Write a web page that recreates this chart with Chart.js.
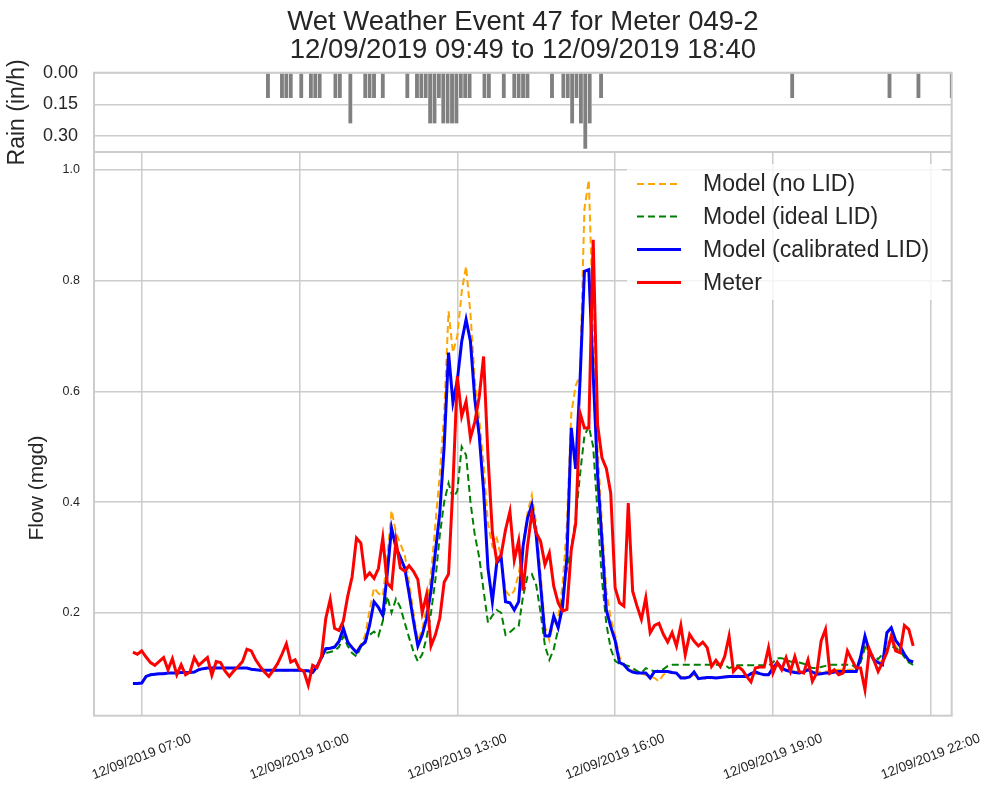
<!DOCTYPE html>
<html>
<head>
<meta charset="utf-8">
<script src="https://cdn.jsdelivr.net/npm/chart.js@4.4.1/dist/chart.umd.min.js"></script>
<style>
  html, body { margin: 0; padding: 0; background: #fff; }
  #wrap { position: relative; width: 985px; height: 793px; }
  #wrap canvas { position: absolute; left: 0; top: 0; }
</style>
</head>
<body>
<div id="wrap">
  <canvas id="flow" width="985" height="793"></canvas>
  <canvas id="rain" width="985" height="793"></canvas>
</div>
<script>
const FONT = "'Liberation Sans', Arial, Helvetica, sans-serif";
const TEXT = '#262626';
const GRID = '#cccccc';

// ---- data ----
const titleLines = ['Wet Weather Event 47 for Meter 049-2', '12/09/2019 09:49 to 12/09/2019 18:40'];
const datePrefix = '12/09/2019';
const seriesNames = ['Model (no LID)', 'Model (ideal LID)', 'Model (calibrated LID)', 'Meter'];

// flow samples every 5 minutes from 06:50
const flowStart = '06:50';
const flowStepMin = 5;

const noLid = [
  0.072,0.072,0.073,0.085,0.088,0.089,0.090,0.090,0.091,0.091,0.091,0.092,
  0.092,0.092,0.093,0.097,0.099,0.100,0.100,0.100,0.100,0.100,0.100,0.100,
  0.100,0.100,0.100,0.098,0.097,0.096,0.096,0.096,0.096,0.096,0.096,0.096,
  0.096,0.096,0.096,0.095,0.095,0.092,0.103,0.119,0.135,0.137,0.139,0.150,
  0.175,0.150,0.138,0.130,0.143,0.160,0.205,0.245,0.235,0.230,0.300,0.385,
  0.345,0.325,0.305,0.255,0.200,0.150,0.170,0.210,0.270,0.360,0.450,0.560,
  0.745,0.670,0.700,0.780,0.826,0.740,0.620,0.550,0.470,0.360,0.320,0.335,
  0.300,0.240,0.230,0.240,0.270,0.320,0.380,0.413,0.360,0.270,0.175,0.150,
  0.185,0.190,0.250,0.360,0.560,0.610,0.630,0.930,0.982,0.720,0.500,0.360,
  0.240,0.190,0.160,0.120,0.108,0.100,0.095,0.092,0.090,0.088,0.085,0.082,
  0.076,0.088,0.092,0.092,0.090,0.085,0.083,0.084,0.088,0.083,0.082,0.080,
  0.082,0.083,0.084,0.085,0.086,0.086,0.086,0.086,0.086,0.088,0.090,0.090,
  0.089,0.089,0.098,0.105,0.100,0.097,0.095,0.094,0.093,0.094,0.096,0.094,
  0.092,0.093,0.094,0.095,0.096,0.097,0.097,0.097,0.097,0.097,0.112,0.140,
  0.128,0.118,0.112,0.112,0.145,0.152,0.140,0.132,0.120,0.112,0.108
];

const idealLid = [
  0.072,0.072,0.073,0.085,0.088,0.089,0.090,0.090,0.091,0.091,0.091,0.092,
  0.092,0.092,0.093,0.097,0.099,0.100,0.100,0.100,0.100,0.100,0.100,0.100,
  0.100,0.100,0.100,0.098,0.097,0.096,0.096,0.096,0.096,0.096,0.096,0.096,
  0.096,0.096,0.096,0.095,0.095,0.092,0.103,0.118,0.127,0.129,0.131,0.138,
  0.158,0.140,0.127,0.121,0.138,0.150,0.160,0.166,0.158,0.185,0.230,0.200,
  0.225,0.210,0.182,0.155,0.130,0.112,0.125,0.155,0.200,0.260,0.340,0.400,
  0.434,0.407,0.420,0.500,0.485,0.400,0.340,0.300,0.240,0.182,0.195,0.205,
  0.200,0.160,0.165,0.172,0.176,0.230,0.265,0.270,0.250,0.200,0.140,0.115,
  0.134,0.170,0.230,0.280,0.315,0.370,0.450,0.520,0.537,0.500,0.380,0.260,
  0.180,0.135,0.113,0.108,0.106,0.104,0.100,0.095,0.091,0.100,0.097,0.094,
  0.096,0.098,0.104,0.106,0.106,0.106,0.106,0.106,0.106,0.106,0.106,0.106,
  0.106,0.106,0.106,0.106,0.100,0.103,0.105,0.105,0.105,0.105,0.105,0.105,
  0.105,0.105,0.110,0.118,0.118,0.115,0.112,0.110,0.110,0.108,0.104,0.100,
  0.100,0.102,0.104,0.106,0.106,0.106,0.106,0.106,0.106,0.100,0.110,0.137,
  0.125,0.122,0.116,0.125,0.135,0.140,0.136,0.131,0.120,0.110,0.106
];

const calibratedLid = [
  0.072,0.072,0.073,0.085,0.088,0.089,0.090,0.090,0.091,0.091,0.091,0.092,
  0.092,0.092,0.093,0.097,0.099,0.100,0.100,0.100,0.100,0.100,0.100,0.100,
  0.100,0.100,0.100,0.098,0.097,0.096,0.096,0.096,0.096,0.096,0.096,0.096,
  0.096,0.096,0.096,0.095,0.095,0.092,0.103,0.119,0.135,0.136,0.138,0.148,
  0.172,0.147,0.137,0.128,0.140,0.147,0.178,0.220,0.210,0.195,0.270,0.353,
  0.318,0.300,0.281,0.235,0.185,0.140,0.160,0.190,0.240,0.310,0.380,0.500,
  0.670,0.580,0.620,0.690,0.730,0.690,0.585,0.520,0.420,0.280,0.220,0.290,
  0.300,0.220,0.218,0.205,0.220,0.320,0.370,0.395,0.340,0.250,0.158,0.158,
  0.194,0.173,0.210,0.300,0.534,0.460,0.620,0.817,0.820,0.630,0.450,0.330,
  0.205,0.175,0.150,0.110,0.106,0.097,0.093,0.091,0.091,0.091,0.082,0.094,
  0.094,0.094,0.094,0.092,0.091,0.082,0.082,0.084,0.093,0.081,0.082,0.083,
  0.083,0.082,0.083,0.084,0.085,0.085,0.085,0.085,0.085,0.090,0.093,0.090,
  0.088,0.088,0.100,0.110,0.100,0.096,0.094,0.092,0.091,0.093,0.097,0.093,
  0.089,0.090,0.091,0.091,0.093,0.094,0.094,0.094,0.094,0.094,0.120,0.158,
  0.130,0.115,0.110,0.106,0.164,0.173,0.150,0.140,0.125,0.114,0.111
];

const meterFlow = [
  0.129,0.125,0.131,0.120,0.110,0.105,0.112,0.119,0.097,0.117,0.088,0.106,
  0.088,0.093,0.119,0.105,0.112,0.119,0.087,0.112,0.110,0.095,0.085,0.095,
  0.103,0.112,0.134,0.131,0.115,0.103,0.093,0.085,0.096,0.108,0.125,0.144,
  0.111,0.115,0.098,0.094,0.069,0.105,0.101,0.121,0.190,0.224,0.172,0.168,
  0.185,0.230,0.265,0.335,0.326,0.263,0.272,0.262,0.280,0.335,0.254,0.245,
  0.330,0.281,0.275,0.285,0.275,0.260,0.200,0.233,0.140,0.160,0.190,0.255,
  0.270,0.430,0.627,0.555,0.582,0.516,0.545,0.590,0.663,0.482,0.345,0.293,
  0.305,0.350,0.383,0.295,0.330,0.240,0.320,0.380,0.344,0.329,0.287,0.308,
  0.248,0.218,0.203,0.206,0.314,0.360,0.561,0.534,0.534,0.874,0.540,0.480,
  0.461,0.416,0.245,0.218,0.212,0.398,0.239,0.212,0.188,0.227,0.164,0.177,
  0.181,0.161,0.147,0.164,0.140,0.177,0.124,0.161,0.149,0.140,0.147,0.137,
  0.103,0.114,0.103,0.121,0.158,0.094,0.103,0.097,0.085,0.075,0.100,0.102,
  0.102,0.137,0.091,0.110,0.097,0.119,0.094,0.121,0.094,0.091,0.115,0.076,
  0.091,0.149,0.170,0.091,0.097,0.088,0.091,0.131,0.115,0.100,0.100,0.061,
  0.134,0.115,0.094,0.110,0.128,0.158,0.131,0.128,0.177,0.170,0.140
];

// rain intensity (in/h), 5-minute bars
const rainTimes = [
  '09:24','09:40','09:45','09:50','10:02','10:13','10:18','10:23','10:41','10:46','10:58',
  '11:15','11:20','11:25','11:35','12:03','12:14','12:19','12:24','12:29','12:34','12:39',
  '12:44','12:49','12:54','12:59','13:04','13:09','13:14','13:31','13:36','13:53',
  '14:05','14:10','14:15','14:20','14:48','15:01','15:06','15:11','15:16','15:21',
  '15:26','15:31','15:44','19:22','21:13','21:46','22:24'
];
const rainValues = [
  0.12,0.12,0.12,0.12,0.12,0.12,0.12,0.12,0.12,0.12,0.24,
  0.12,0.12,0.12,0.12,0.12,0.12,0.12,0.12,0.24,0.24,0.12,
  0.24,0.24,0.24,0.24,0.12,0.12,0.12,0.12,0.12,0.12,
  0.12,0.12,0.12,0.12,0.12,0.12,0.12,0.24,0.12,0.24,
  0.36,0.24,0.12,0.12,0.12,0.12,0.12
];

const xTicks = [7, 10, 13, 16, 19, 22];
const flowTicks = [0.2, 0.4, 0.6, 0.8, 1.0];
const rainTicks = [0, 0.15, 0.30];

// ---- layout ----
const W = 985, H = 793;
const X_MIN = 6.093, X_MAX = 22.399;
const PLOT_LEFT = 94, PLOT_RIGHT = 951.7;
const RAIN_TOP = 72.7, SPLIT = 152, FLOW_BOTTOM = 715.7;

const toHours = s => { const [h, m] = s.split(':').map(Number); return h + m / 60; };
const flowTimes = meterFlow.map((_, i) => toHours(flowStart) + i * flowStepMin / 60);
const pts = arr => arr.map((v, i) => ({ x: flowTimes[i], y: v }));

const frame = {
  id: 'frame',
  afterDraw(chart) {
    const { ctx, chartArea: a } = chart;
    ctx.save();
    ctx.strokeStyle = GRID;
    ctx.lineWidth = 2;
    ctx.strokeRect(a.left, a.top, a.right - a.left, a.bottom - a.top);
    ctx.restore();
  }
};

const flowDecor = {
  id: 'flowDecor',
  afterDraw(chart) {
    const { ctx } = chart;
    const xs = chart.scales.x;
    ctx.save();
    // x tick labels, rotated and centred on the tick
    ctx.font = '13.5px ' + FONT;
    ctx.fillStyle = TEXT;
    ctx.textAlign = 'center';
    ctx.textBaseline = 'middle';
    xs.ticks.forEach(t => {
      const px = xs.getPixelForValue(t.value);
      ctx.save();
      ctx.translate(px, 757);
      ctx.rotate(-21 * Math.PI / 180);
      ctx.fillText(datePrefix + ' ' + String(t.value).padStart(2, '0') + ':00', 0, 0);
      ctx.restore();
    });
    // y title
    ctx.save();
    ctx.font = '21px ' + FONT;
    ctx.translate(37, 488);
    ctx.rotate(-Math.PI / 2);
    ctx.fillText('Flow (mgd)', 0, 0);
    ctx.restore();
    // legend
    ctx.fillStyle = 'rgba(255,255,255,0.8)';
    ctx.fillRect(627, 164, 315, 136);
    const rows = [184, 216.5, 249.5, 282.5];
    chart.data.datasets.forEach((ds, i) => {
      ctx.beginPath();
      ctx.strokeStyle = ds.borderColor;
      ctx.lineWidth = ds.borderWidth;
      ctx.setLineDash(ds.borderDash || []);
      ctx.moveTo(637, rows[i]);
      ctx.lineTo(681, rows[i]);
      ctx.stroke();
      ctx.setLineDash([]);
      ctx.fillStyle = TEXT;
      ctx.font = '23px ' + FONT;
      ctx.textAlign = 'left';
      ctx.fillText(ds.label, 703, rows[i] + 1);
    });
    ctx.restore();
  }
};

const mk = (arr, i, color, width, dash, order) => ({
  label: seriesNames[i], data: pts(arr), borderColor: color, backgroundColor: color,
  borderWidth: width, borderDash: dash, order: order, pointRadius: 0, tension: 0, fill: false
});

new Chart(document.getElementById('flow'), {
  type: 'line',
  data: {
    datasets: [
      mk(noLid, 0, '#ffa500', 2, [7, 4], 4),
      mk(idealLid, 1, '#008000', 2, [7, 4], 3),
      mk(calibratedLid, 2, '#0000ff', 3, [], 2),
      mk(meterFlow, 3, '#ff0000', 3, [], 1)
    ]
  },
  options: {
    responsive: false, animation: false, devicePixelRatio: 1,
    layout: { padding: { left: 0, right: W - PLOT_RIGHT, top: SPLIT, bottom: 0 } },
    plugins: { legend: { display: false }, tooltip: { enabled: false }, title: { display: false } },
    scales: {
      x: {
        type: 'linear', min: X_MIN, max: X_MAX, offset: false,
        afterBuildTicks: s => { s.ticks = xTicks.map(v => ({ value: v })); },
        afterFit: s => { s.height = H - FLOW_BOTTOM; },
        ticks: { display: false },
        grid: { color: GRID, lineWidth: 1.5, drawTicks: false },
        border: { display: false }
      },
      y: {
        min: 0.014, max: 1.0325,
        afterBuildTicks: s => { s.ticks = flowTicks.map(v => ({ value: v })); },
        afterFit: s => { s.width = PLOT_LEFT; },
        ticks: { padding: 14, color: TEXT, font: { family: FONT, size: 12.5 }, callback: v => v.toFixed(1) },
        grid: { color: GRID, lineWidth: 1.5, drawTicks: false },
        border: { display: false }
      }
    }
  },
  plugins: [frame, flowDecor]
});

new Chart(document.getElementById('rain'), {
  type: 'bar',
  data: {
    datasets: [{
      label: 'Rain',
      data: rainTimes.map((t, i) => ({ x: toHours(t), y: rainValues[i] })),
      backgroundColor: '#808080', borderColor: 'rgba(255,255,255,0.7)',
      borderWidth: { left: 0.6, right: 0.6, top: 0, bottom: 0 }, barThickness: 4.4
    }]
  },
  options: {
    responsive: false, animation: false, devicePixelRatio: 1,
    layout: { padding: { left: 0, right: W - PLOT_RIGHT, top: 0, bottom: H - SPLIT } },
    plugins: {
      legend: { display: false }, tooltip: { enabled: false },
      title: {
        display: true, text: titleLines, fullSize: false, color: TEXT,
        font: { family: FONT, size: 27.5, weight: 'normal', lineHeight: 28 / 27.5 },
        padding: { top: 8.5, bottom: 8.2 }
      }
    },
    scales: {
      x: { type: 'linear', min: X_MIN, max: X_MAX, offset: false, display: false },
      y: {
        reverse: true, min: 0, max: 0.375,
        afterBuildTicks: s => { s.ticks = rainTicks.map(v => ({ value: v })); },
        afterFit: s => { s.width = PLOT_LEFT; },
        ticks: { padding: 16, color: TEXT, font: { family: FONT, size: 18 }, callback: v => v.toFixed(2) },
        grid: { color: GRID, lineWidth: 1.5, drawTicks: false },
        border: { display: false },
        title: { display: true, text: 'Rain (in/h)', color: TEXT, font: { family: FONT, size: 23 }, padding: { top: 4 } }
      }
    }
  },
  plugins: [frame]
});
</script>
</body>
</html>
